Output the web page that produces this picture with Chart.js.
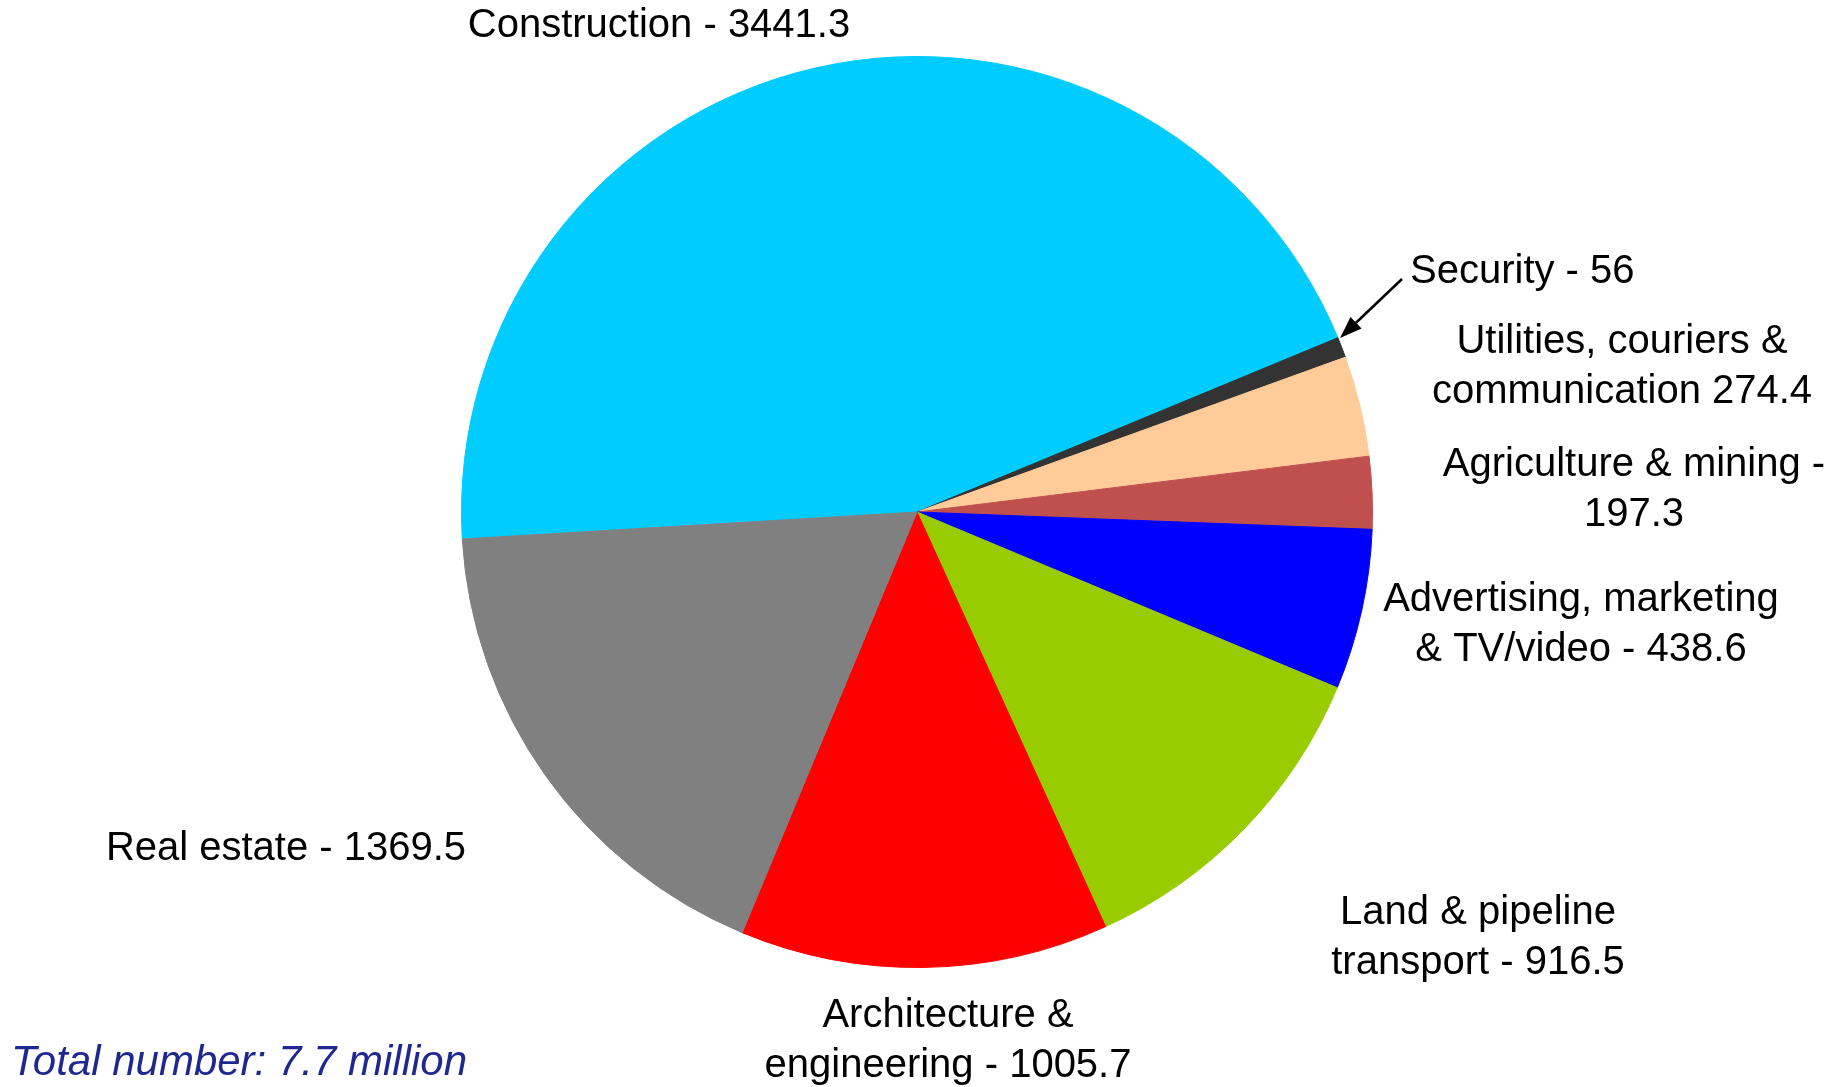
<!DOCTYPE html>
<html>
<head>
<meta charset="utf-8">
<script src="https://cdn.jsdelivr.net/npm/chart.js@4.4.1/dist/chart.umd.min.js"></script>
<style>
html,body{margin:0;padding:0;background:#fff;}
#wrap{width:1839px;height:1087px;position:relative;}
</style>
</head>
<body>
<div id="wrap"><canvas id="c" width="1839" height="1087"></canvas></div>
<script>
const categories = ["Construction", "Security", "Utilities, couriers & communication", "Agriculture & mining", "Advertising, marketing & TV/video", "Land & pipeline transport", "Architecture & engineering", "Real estate"];
const values = [3441.3, 56, 274.4, 197.3, 438.6, 916.5, 1005.7, 1369.5];
const labelLines = [
  ["Construction - 3441.3"],
  ["Security - 56"],
  ["Utilities, couriers &", "communication 274.4"],
  ["Agriculture & mining -", "197.3"],
  ["Advertising, marketing", "& TV/video - 438.6"],
  ["Land & pipeline", "transport - 916.5"],
  ["Architecture &", "engineering - 1005.7"],
  ["Real estate - 1369.5"]
];
const totalText = "Total number: 7.7 million";

// layout (not data)
const colors = ["#00CCFF", "#333333", "#FFCC99", "#C0504D", "#0000FF", "#99CC00", "#FF0000", "#808080"];
const labelPos = [
  {x: 659, y: 37, align: "center"},
  {x: 1410, y: 283, align: "left"},
  {x: 1622, y: 353, align: "center"},
  {x: 1634, y: 476, align: "center"},
  {x: 1581, y: 611, align: "center"},
  {x: 1478, y: 924, align: "center"},
  {x: 948, y: 1027, align: "center"},
  {x: 286, y: 860, align: "center"}
];
const lineH = 50;

const labelPlugin = {
  id: "labels",
  afterDraw(chart) {
    const ctx = chart.ctx;
    ctx.save();
    ctx.fillStyle = "#000";
    ctx.font = "40px 'Liberation Sans', Arial, sans-serif";
    ctx.textBaseline = "alphabetic";
    labelLines.forEach((lines, i) => {
      const p = labelPos[i];
      ctx.textAlign = p.align;
      lines.forEach((t, k) => ctx.fillText(t, p.x, p.y + k * lineH));
    });
    // leader arrow for Security
    const arc = chart.getDatasetMeta(0).data[1];
    const a = arc.startAngle + 0.05 * (arc.endAngle - arc.startAngle);
    const r = arc.outerRadius + 2;
    const tx = arc.x + r * Math.cos(a), ty = arc.y + r * Math.sin(a);
    const sx = 1402, sy = 279;
    const ang = Math.atan2(ty - sy, tx - sx);
    const hl = 22, hw = 8;
    const bx = tx - hl * Math.cos(ang), by = ty - hl * Math.sin(ang);
    ctx.strokeStyle = "#000";
    ctx.lineWidth = 2.5;
    ctx.beginPath();
    ctx.moveTo(sx, sy);
    ctx.lineTo(bx, by);
    ctx.stroke();
    ctx.beginPath();
    ctx.moveTo(tx, ty);
    ctx.lineTo(bx + hw * Math.sin(ang), by - hw * Math.cos(ang));
    ctx.lineTo(bx - hw * Math.sin(ang), by + hw * Math.cos(ang));
    ctx.closePath();
    ctx.fillStyle = "#000";
    ctx.fill();
    // total text
    ctx.font = "italic 42px 'Liberation Sans', Arial, sans-serif";
    ctx.fillStyle = "#1F2790";
    ctx.textAlign = "left";
    ctx.fillText(totalText, 11, 1075);
    ctx.restore();
  }
};

new Chart(document.getElementById("c"), {
  type: "pie",
  data: {
    labels: categories,
    datasets: [{
      data: values,
      backgroundColor: colors,
      borderColor: colors,
      borderWidth: 1
    }]
  },
  options: {
    responsive: false,
    animation: false,
    rotation: 266.6,
    layout: {padding: {left: 0, right: 5, top: 56, bottom: 119}},
    plugins: {legend: {display: false}, tooltip: {enabled: false}}
  },
  plugins: [labelPlugin]
});
</script>
</body>
</html>
